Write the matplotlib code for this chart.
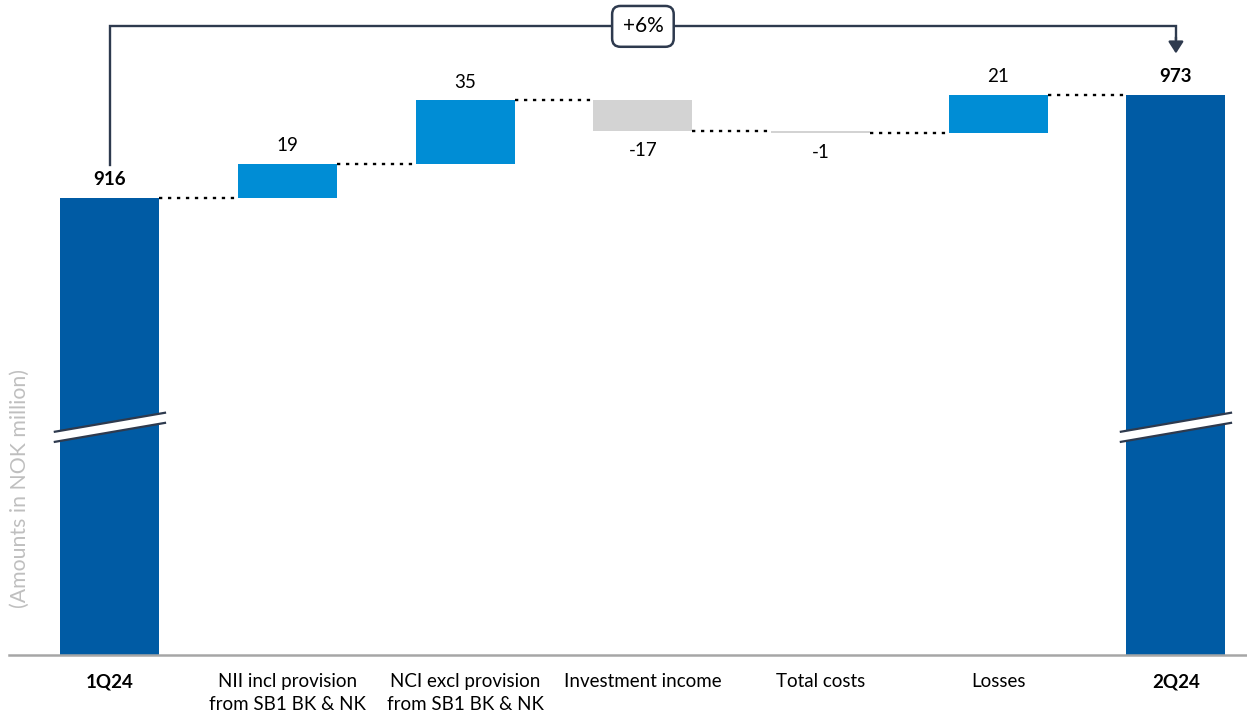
import numpy as np
import matplotlib
matplotlib.use("Agg")
from matplotlib import pyplot as plt
from matplotlib.patches import Polygon

plt.rcParams["font.family"] = ["Lato", "DejaVu Sans"]

categories = [
    "1Q24",
    "NII incl provision\nfrom SB1 BK & NK",
    "NCI excl provision\nfrom SB1 BK & NK",
    "Investment income",
    "Total costs",
    "Losses",
    "2Q24",
]
start_value = 916
changes = [19, 35, -17, -1, 21]
end_value = 973
growth_label = "+6%"

c_total = "#005BA4"
c_up = "#008DD5"
c_down = "#D3D3D3"
c_line = "#2E3A4E"

x = np.arange(len(categories))
w = 0.557

fig = plt.figure(figsize=(12.47, 7.16), dpi=100)
ax = fig.add_axes([9 / 1247, 61 / 716, 1 - 9 / 1247, 655 / 716])

# running totals for the floating bars
levels = np.concatenate([[start_value], start_value + np.cumsum(changes)])
bottoms = np.where(np.array(changes) >= 0, levels[:-1], levels[1:])
heights = np.abs(changes)
colors = [c_up if c >= 0 else c_down for c in changes]

ax.bar(x[0], start_value, width=w, color=c_total, zorder=2)
ax.bar(x[-1], end_value, width=w, color=c_total, zorder=2)
ax.bar(x[1:-1], heights, bottom=bottoms, width=w, color=colors, zorder=2)

# dotted connectors between bars
for i, lvl in enumerate(levels):
    ax.plot([x[i] + w / 2, x[i + 1] - w / 2], [lvl, lvl], color="black",
            lw=1.7, ls=(0, (1.4, 2.4)), zorder=1)

fs = 13.5
ax.annotate(f"{start_value}", (x[0], start_value), xytext=(0, 13), textcoords="offset points",
            ha="center", va="center", fontsize=fs, fontweight="bold", color="black")
ax.annotate(f"{end_value}", (x[-1], end_value), xytext=(0, 13), textcoords="offset points",
            ha="center", va="center", fontsize=fs, fontweight="bold", color="black")
for i, c in enumerate(changes):
    if c >= 0:
        ax.annotate(f"{c}", (x[i + 1], bottoms[i] + heights[i]), xytext=(0, 13),
                    textcoords="offset points", ha="center", va="center", fontsize=fs)
    else:
        ax.annotate(f"{c}", (x[i + 1], bottoms[i]), xytext=(0, -14),
                    textcoords="offset points", ha="center", va="center", fontsize=fs)

ax.set_xlim(-0.568, 6.4)
ax.set_ylim(663, 1025.6)

# axis break marks on the total bars
for xi in (x[0], x[-1]):
    y0, dy, half = 781, 10.5, 0.31
    gap = 5.6
    band = Polygon([[xi - half, y0], [xi + half, y0 + dy], [xi + half, y0 + dy + gap],
                    [xi - half, y0 + gap]], closed=True, facecolor="white",
                   edgecolor="none", zorder=3)
    ax.add_patch(band)
    ax.plot([xi - half, xi + half], [y0, y0 + dy], color=c_line, lw=1.6, zorder=4)
    ax.plot([xi - half, xi + half], [y0 + gap, y0 + dy + gap], color=c_line, lw=1.6, zorder=4)

# growth bracket from first to last total
top = 1011
ax.plot([x[0], x[0], x[-1], x[-1]], [934, top, top, 1004], color=c_line, lw=1.7,
        solid_joinstyle="miter", clip_on=False, zorder=3)
ax.annotate("", xy=(x[-1], 996), xytext=(x[-1], 1005),
            arrowprops=dict(arrowstyle="-|>,head_width=0.45,head_length=0.7",
                            color=c_line, lw=1.7, shrinkA=0, shrinkB=0), zorder=3)
ax.text(x[3], top, growth_label, ha="center", va="center", fontsize=15, color="black",
        bbox=dict(boxstyle="round,pad=0.5,rounding_size=0.4", facecolor="white",
                  edgecolor=c_line, lw=1.8), zorder=5)

ax.set_xticks(x)
ax.set_xticklabels(categories, fontsize=fs, linespacing=1.45)
for lbl in (ax.get_xticklabels()[0], ax.get_xticklabels()[-1]):
    lbl.set_fontweight("bold")
ax.tick_params(axis="x", length=0, pad=13)
ax.set_yticks([])
for s in ("top", "right", "left"):
    ax.spines[s].set_visible(False)
ax.spines["bottom"].set_color("#A6A6A6")
ax.spines["bottom"].set_linewidth(1.8)

fig.text(20 / 1247, 1 - 488 / 716, "(Amounts in NOK million)", rotation=90,
         ha="center", va="center", fontsize=15.3, color="#BFBFBF")

fig.savefig("out.png", dpi=100)
